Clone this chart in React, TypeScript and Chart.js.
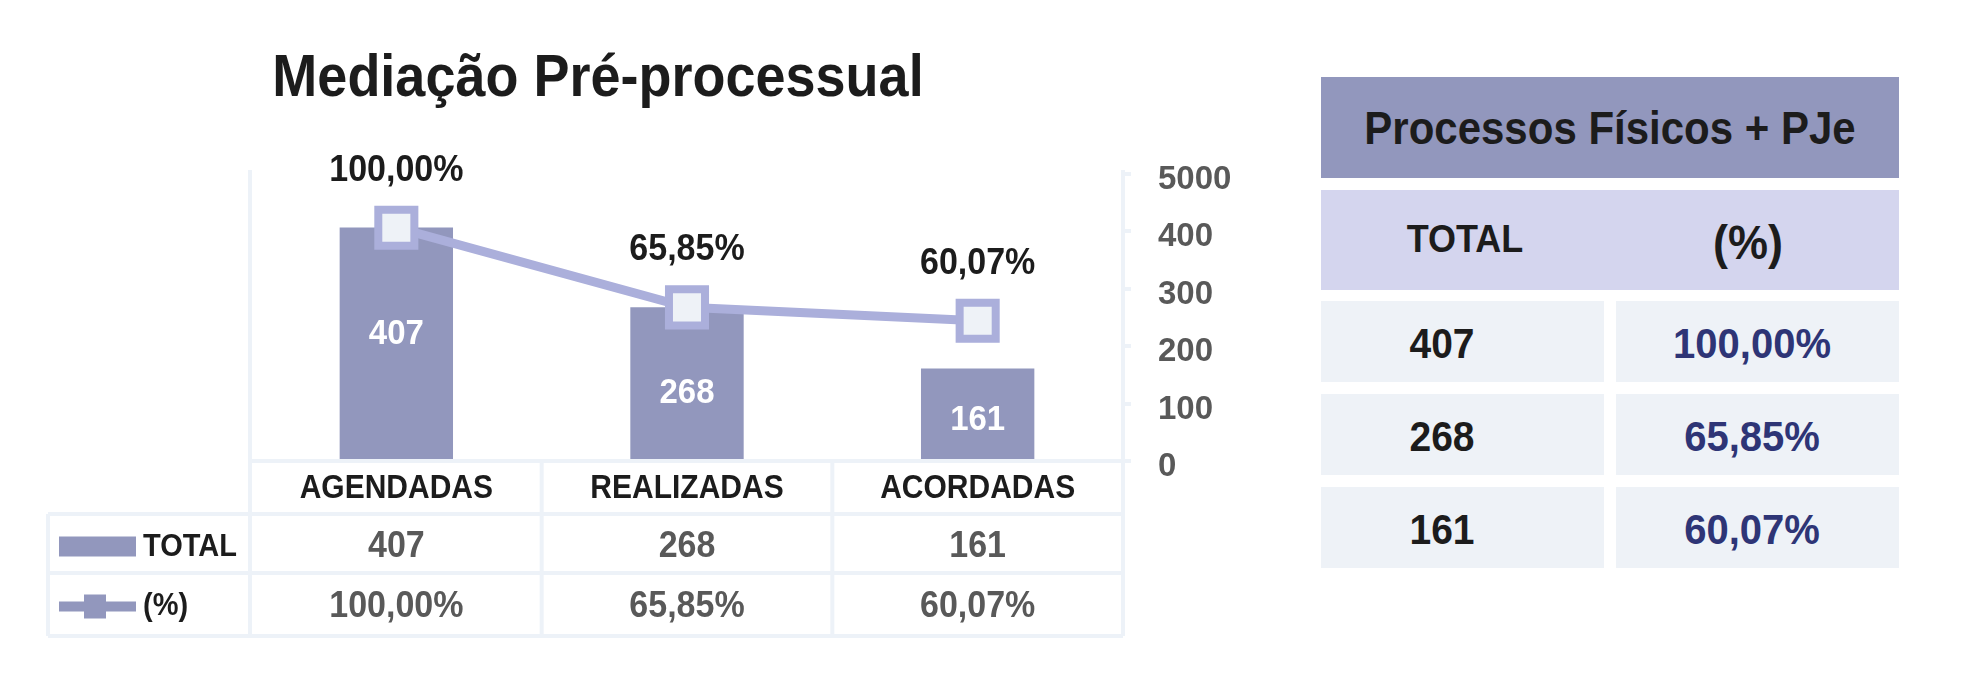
import React, { useEffect, useRef } from 'react';
import { Chart, registerables } from 'chart.js';

Chart.register(...registerables);

const chartTitle = 'Mediação Pré-processual';
const categories = ['AGENDADAS', 'REALIZADAS', 'ACORDADAS'];
const totals = [407, 268, 161];
const percents = [100, 65.85, 60.07];
const seriesNames = ['TOTAL', '(%)'];
const yTickLabels = ['0', '100', '200', '300', '400', '5000'];
const yMin = 0;
const yMax = 500;
const yStep = 100;
const pctAxisMax = 123;

const tableTitle = 'Processos Físicos + PJe';
const tableHeaders = ['TOTAL', '(%)'];

// style-only: vertical nudges of the white in-bar labels
const barLabelShift = [-9, 10, 6];

const FONT = "'Liberation Sans', Arial, Helvetica, sans-serif";
const BAR_COLOR = '#9297bd';
const LINE_COLOR = '#abafdb';
const MARKER_FILL = '#eef2f7';
const GRID = '#edf2f8';
const DARK = '#1c1c1c';
const GRAY = '#595959';
const SY = 1.08;

const fmtPct = (v: number) => v.toFixed(2).replace('.', ',') + '%';

const drawText = (ctx: CanvasRenderingContext2D, text: string, x: number, y: number) => {
  ctx.save();
  ctx.translate(x, y);
  ctx.scale(1, SY);
  ctx.fillText(text, 0, 0);
  ctx.restore();
};

const tablePlugin = {
  id: 'dataTable',
  afterDatasetsDraw(chart: any) {
    const ctx = chart.ctx;
    ctx.save();
    ctx.textAlign = 'center';
    ctx.textBaseline = 'middle';
    const barMeta = chart.getDatasetMeta(0);
    ctx.fillStyle = '#ffffff';
    ctx.font = `bold 33px ${FONT}`;
    barMeta.data.forEach((bar: any, i: number) => {
      drawText(ctx, String(totals[i]), bar.x, (bar.y + bar.base) / 2 + barLabelShift[i]);
    });
    const lineMeta = chart.getDatasetMeta(1);
    ctx.fillStyle = DARK;
    ctx.font = `bold 34px ${FONT}`;
    lineMeta.data.forEach((pt: any, i: number) => {
      drawText(ctx, fmtPct(percents[i]), pt.x, pt.y - 57);
    });
    ctx.restore();
  },
  afterDraw(chart: any) {
    const ctx = chart.ctx;
    const area = chart.chartArea;
    const xs = chart.scales.x;
    const L = area.left;
    const R = area.right;
    const B = area.bottom;
    const headerBottom = B + 53;
    const row1Bottom = B + 112;
    const row2Bottom = B + 175;
    const legendLeft = 48;
    const colW = (R - L) / categories.length;

    ctx.save();
    ctx.fillStyle = DARK;
    ctx.textAlign = 'center';
    ctx.textBaseline = 'middle';
    ctx.font = `bold 54px ${FONT}`;
    drawText(ctx, chartTitle, 598, 80);

    ctx.strokeStyle = GRID;
    ctx.lineWidth = 4;
    const line = (x1: number, y1: number, x2: number, y2: number) => {
      ctx.beginPath();
      ctx.moveTo(x1, y1);
      ctx.lineTo(x2, y2);
      ctx.stroke();
    };
    line(L - 1, area.top - 4, L - 1, row2Bottom);
    line(R, area.top - 4, R, row2Bottom);
    line(L - 1, B, R + 8, B);
    for (let k = 1; k < categories.length; k++) {
      line(L + k * colW, B, L + k * colW, row2Bottom);
    }
    line(legendLeft, headerBottom, R, headerBottom);
    line(legendLeft, row1Bottom, R, row1Bottom);
    line(legendLeft, row2Bottom, R, row2Bottom);
    line(legendLeft, headerBottom, legendLeft, row2Bottom);

    const headY = (B + headerBottom) / 2 + 2;
    const row1Y = (headerBottom + row1Bottom) / 2 + 3;
    const row2Y = (row1Bottom + row2Bottom) / 2 + 2;
    ctx.fillStyle = DARK;
    ctx.font = `bold 30px ${FONT}`;
    categories.forEach((c, i) => {
      drawText(ctx, c, xs.getPixelForValue(i), headY);
    });

    ctx.fillStyle = GRAY;
    ctx.font = `bold 34px ${FONT}`;
    totals.forEach((v, i) => {
      drawText(ctx, String(v), xs.getPixelForValue(i), row1Y);
    });
    percents.forEach((v, i) => {
      drawText(ctx, fmtPct(v), xs.getPixelForValue(i), row2Y);
    });

    ctx.fillStyle = BAR_COLOR;
    ctx.fillRect(59, row1Y - 10, 77, 20);
    ctx.fillRect(59, row2Y - 5, 77, 10);
    ctx.fillRect(84, row2Y - 12, 22, 24);
    ctx.fillStyle = DARK;
    ctx.textAlign = 'left';
    ctx.font = `bold 29px ${FONT}`;
    drawText(ctx, seriesNames[0], 143, row1Y + 1);
    drawText(ctx, seriesNames[1], 143, row2Y);
    ctx.restore();
  },
};

function ChartCanvas() {
  const ref = useRef<HTMLCanvasElement | null>(null);
  useEffect(() => {
    if (!ref.current) return;
    Chart.defaults.font.family = FONT;
    const chart = new Chart(ref.current, {
      type: 'bar',
      data: {
        labels: categories,
        datasets: [
          {
            type: 'bar',
            label: seriesNames[0],
            data: totals,
            backgroundColor: BAR_COLOR,
            barPercentage: 0.39,
            categoryPercentage: 1,
            yAxisID: 'y',
            order: 2,
          } as any,
          {
            type: 'line',
            label: seriesNames[1],
            data: percents,
            borderColor: LINE_COLOR,
            borderWidth: 9,
            pointStyle: 'rect',
            pointRadius: 25.5,
            pointBorderWidth: 8,
            pointBackgroundColor: MARKER_FILL,
            pointBorderColor: LINE_COLOR,
            yAxisID: 'y2',
            order: 1,
            clip: false,
          } as any,
        ],
      },
      options: {
        responsive: false,
        animation: false,
        layout: { padding: { left: 251, top: 174, right: 0, bottom: 220 } },
        plugins: {
          legend: { display: false },
          tooltip: { enabled: false },
          title: { display: false },
        },
        scales: {
          x: { display: false, offset: true },
          y: {
            position: 'right',
            min: yMin,
            max: yMax,
            ticks: {
              stepSize: yStep,
              callback: (_v: any, i: number) => yTickLabels[i],
              color: GRAY,
              font: { size: 33, weight: 'bold', family: FONT },
              padding: 27,
              labelOffset: 6,
            },
            grid: {
              drawOnChartArea: false,
              drawTicks: true,
              tickLength: 8,
              color: GRID,
              lineWidth: 4,
            },
            border: { display: false },
            afterFit: (s: any) => {
              s.width = 167;
            },
          },
          y2: { display: false, min: 0, max: pctAxisMax },
        },
      } as any,
      plugins: [tablePlugin],
    });
    return () => chart.destroy();
  }, []);
  return (
    <canvas
      ref={ref}
      width={1290}
      height={681}
      style={{ position: 'absolute', left: 0, top: 0, width: 1290, height: 681 }}
    />
  );
}

const rowsTop = [301, 394, 487];

function SideTable() {
  const base: React.CSSProperties = {
    position: 'absolute',
    fontFamily: FONT,
    fontWeight: 'bold',
  };
  const centered = (x: number, y: number, size: number, color: string, text: string) => (
    <span
      style={{
        position: 'absolute',
        left: x,
        top: y,
        transform: `translate(-50%, -50%) scaleY(${SY})`,
        fontSize: size,
        color,
        whiteSpace: 'nowrap',
        lineHeight: 1,
      }}
    >
      {text}
    </span>
  );
  return (
    <>
      <div style={{ ...base, left: 1321, top: 77, width: 578, height: 101, background: BAR_COLOR }}>
        {centered(289, 52, 42, DARK, tableTitle)}
      </div>
      <div style={{ ...base, left: 1321, top: 190, width: 578, height: 100, background: '#d4d5ee' }}>
        {centered(144, 49, 36, DARK, tableHeaders[0])}
        {centered(427, 52, 45, DARK, tableHeaders[1])}
      </div>
      {totals.map((v, i) => (
        <React.Fragment key={i}>
          <div style={{ ...base, left: 1321, top: rowsTop[i], width: 283, height: 81, background: MARKER_FILL }}>
            {centered(121, 42, 39, DARK, String(v))}
          </div>
          <div style={{ ...base, left: 1616, top: rowsTop[i], width: 283, height: 81, background: MARKER_FILL }}>
            {centered(136, 42, 40, '#2e3576', fmtPct(percents[i]))}
          </div>
        </React.Fragment>
      ))}
    </>
  );
}

export default function App() {
  return (
    <div
      style={{
        position: 'fixed',
        left: 0,
        top: 0,
        width: 1961,
        height: 681,
        background: '#ffffff',
        overflow: 'hidden',
      }}
    >
      <ChartCanvas />
      <SideTable />
    </div>
  );
}
